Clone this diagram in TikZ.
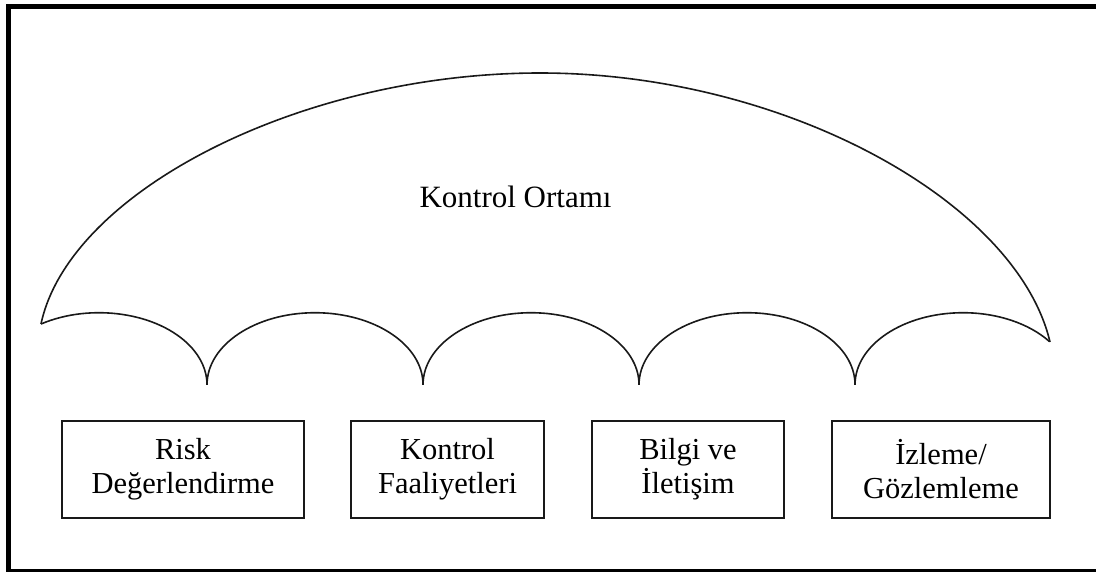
\documentclass[tikz,border=0pt]{standalone}
\usepackage{fontspec}
\setmainfont{Liberation Serif}
\begin{document}
\begin{tikzpicture}[x=1pt,y=-1pt,
  umbrella/.style={line width=1.6pt, draw=black!90},
  compbox/.style={draw=black!90, line width=1.8pt, align=center, inner sep=0pt,
    minimum height=97pt, font=\fontsize{30.5}{34}\selectfont},
  frameline/.style={line width=5pt, draw=black},
]
\useasboundingbox (0,0) rectangle (1096,572);
\clip (0,0) rectangle (1096,572);
% outer frame (right side cut off)
\coordinate (ftr) at (1100,6.5);
\coordinate (ftl) at (8.5,6.5);
\coordinate (fbl) at (8.5,571.5);
\coordinate (fbr) at (1100,571.5);
\draw[frameline] (ftr) -- (ftl) -- (fbl) -- (fbr);

% umbrella canopy
\coordinate (tipL) at (41,324);
\coordinate (top) at (540,73);
\coordinate (tipR) at (1050,342);
\draw[umbrella] (tipL) .. controls (69,192) and (300,73) .. (top)
  .. controls (785,73) and (1017,202) .. (tipR);
% scallops
\draw[umbrella] (tipL)
  arc[start angle=122.5, end angle=0, x radius=108pt, y radius=72pt]
  arc[start angle=180, end angle=0, x radius=108pt, y radius=72pt]
  arc[start angle=180, end angle=0, x radius=108pt, y radius=72pt]
  arc[start angle=180, end angle=0, x radius=108pt, y radius=72pt]
  arc[start angle=180, end angle=37, x radius=108pt, y radius=72pt];

\node[anchor=base, font=\fontsize{31}{34}\selectfont] (title) at (515.5,208) {Kontrol Ortamı};

% component boxes
\node[compbox, minimum width=242pt] (risk) at (183,469.5) {Risk\\Değerlendirme};
\node[compbox, minimum width=193pt] (kf) at (447.5,469.5) {Kontrol\\Faaliyetleri};
\node[compbox, minimum width=192pt] (bi) at (688,469.5) {Bilgi ve\\İletişim};
\node[compbox, minimum width=218pt] (ig) at (941,469.5) {İzleme/\\Gözlemleme};
\end{tikzpicture}
\end{document}
